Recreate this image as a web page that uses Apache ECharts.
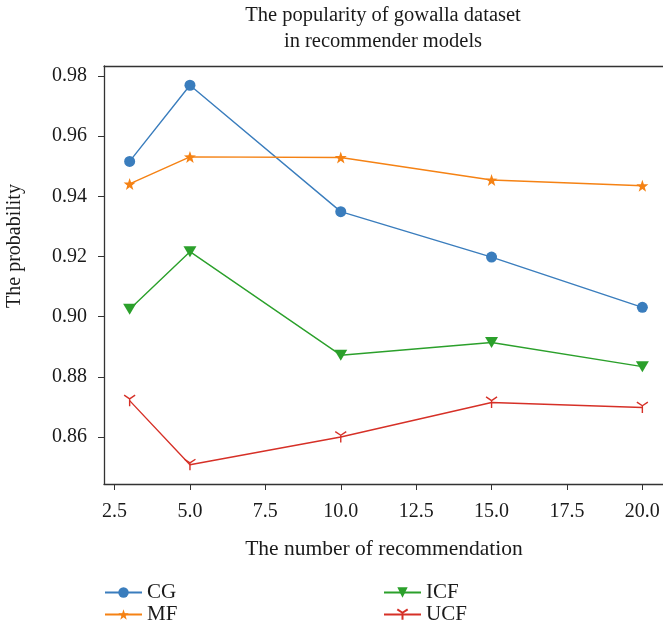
<!DOCTYPE html>
<html>
<head>
<meta charset="utf-8">
<script src="https://cdn.jsdelivr.net/npm/echarts@6/dist/echarts.min.js"></script>
<style>
  html, body { margin: 0; padding: 0; background: #fff; }
  #chart { width: 663px; height: 625px; }
</style>
</head>
<body>
<div id="chart"></div>
<script>
// Number of recommendations (x) and the probability for each model
const recommendations = [3, 5, 10, 15, 20];
const cgValues  = [0.9516, 0.9769, 0.9349, 0.9198, 0.9031];
const mfValues  = [0.9441, 0.9531, 0.9529, 0.9454, 0.9435];
const icfValues = [0.9025, 0.9216, 0.8872, 0.8914, 0.8834];
const ucfValues = [0.8721, 0.8508, 0.8600, 0.8715, 0.8698];

const xTicks = [2.5, 5.0, 7.5, 10.0, 12.5, 15.0, 17.5, 20.0];
const yTicks = [0.86, 0.88, 0.90, 0.92, 0.94, 0.96, 0.98];

const FONT = 'Liberation Serif';
const INK = '#1a1a1a';
const FRAME = '#333';

// five-pointed star outline
function starPath() {
  const pts = [];
  for (let i = 0; i < 10; i++) {
    const r = i % 2 === 0 ? 10 : 4;
    const a = -Math.PI / 2 + i * Math.PI / 5;
    pts.push((10 + r * Math.cos(a)).toFixed(2) + ',' + (10 + r * Math.sin(a)).toFixed(2));
  }
  return 'path://M' + pts.join(' L') + ' Z';
}
// three-armed "tri down" marker
const triDown = 'path://M10,10 L10,20 M10,10 L1.34,5 M10,10 L18.66,5';

function pairs(vals) {
  return recommendations.map((x, i) => [x, vals[i]]);
}

const chart = echarts.init(document.getElementById('chart'), null, { renderer: 'canvas' });

const legendCommon = {
  orient: 'vertical',
  top: 582,
  height: 60,
  padding: 0,
  itemWidth: 37, itemHeight: 13, itemGap: 1,
  textStyle: { fontFamily: FONT, fontSize: 21, lineHeight: 20, color: INK, padding: [0, 0, 0, 0] }
};

const option = {
  animation: false,
  backgroundColor: '#fff',
  textStyle: { fontFamily: FONT },
  title: {
    text: 'The popularity of gowalla dataset\nin recommender models',
    left: 383,
    top: 3,
    padding: 0,
    textAlign: 'center',
    textStyle: { fontFamily: FONT, fontSize: 20.5, fontWeight: 'normal', color: INK, lineHeight: 26 }
  },
  grid: {
    left: 104, right: -5, top: 66, bottom: 141,
    outerBoundsMode: 'none',
    show: false
  },
  xAxis: [
    {
      type: 'value',
      min: 2.15, max: 20.85,
      name: 'The number of recommendation',
      nameLocation: 'middle',
      nameGap: 54,
      nameTextStyle: { fontFamily: FONT, fontSize: 21.5, color: INK, padding: [0, 0, 0, -4] },
      axisLine: { show: true, onZero: false, lineStyle: { color: FRAME, width: 1.3 } },
      axisTick: { show: true, inside: false, length: 6, customValues: xTicks, lineStyle: { color: FRAME } },
      axisLabel: {
        customValues: xTicks, margin: 18,
        fontFamily: FONT, fontSize: 20, color: INK,
        formatter: v => Number(v).toFixed(1)
      },
      splitLine: { show: false }
    },
    {
      // top frame line
      type: 'value', position: 'top',
      min: 2.15, max: 20.85,
      axisLine: { show: true, onZero: false, lineStyle: { color: FRAME, width: 1.3 } },
      axisTick: { show: false },
      axisLabel: { show: false },
      splitLine: { show: false }
    }
  ],
  yAxis: {
    type: 'value',
    min: 0.8444, max: 0.9833,
    name: 'The probability',
    nameLocation: 'middle',
    nameGap: 79,
    nameTextStyle: { fontFamily: FONT, fontSize: 20, color: INK, padding: [0, 0, 0, 58] },
    axisLine: { show: true, onZero: false, lineStyle: { color: FRAME, width: 1.3 } },
    axisTick: { show: true, inside: false, length: 6, customValues: yTicks, lineStyle: { color: FRAME } },
    axisLabel: {
      customValues: yTicks, margin: 17,
      fontFamily: FONT, fontSize: 20, color: INK,
      formatter: v => Number(v).toFixed(2)
    },
    splitLine: { show: false }
  },
  legend: [
    Object.assign({ data: ['CG', 'MF'], left: 104 }, legendCommon),
    Object.assign({ data: ['ICF', 'UCF'], left: 383 }, legendCommon)
  ],
  series: [
    {
      name: 'CG', type: 'line', data: pairs(cgValues),
      symbol: 'circle', symbolSize: 11,
      itemStyle: { color: '#3a7dbd' },
      lineStyle: { color: '#3a7dbd', width: 1.4 }
    },
    {
      name: 'MF', type: 'line', data: pairs(mfValues),
      symbol: starPath(), symbolSize: 12,
      itemStyle: { color: '#f58214' },
      lineStyle: { color: '#f58214', width: 1.4 }
    },
    {
      name: 'ICF', type: 'line', data: pairs(icfValues),
      symbol: 'triangle', symbolRotate: 180, symbolSize: [13, 11],
      itemStyle: { color: '#2ba02b' },
      lineStyle: { color: '#2ba02b', width: 1.4 }
    },
    {
      name: 'UCF', type: 'line', data: pairs(ucfValues),
      symbol: triDown, symbolSize: 11,
      itemStyle: { color: 'rgba(0,0,0,0)', borderColor: '#d63027', borderWidth: 1.4 },
      lineStyle: { color: '#d63027', width: 1.4 }
    }
  ]
};

chart.setOption(option);
</script>
</body>
</html>
